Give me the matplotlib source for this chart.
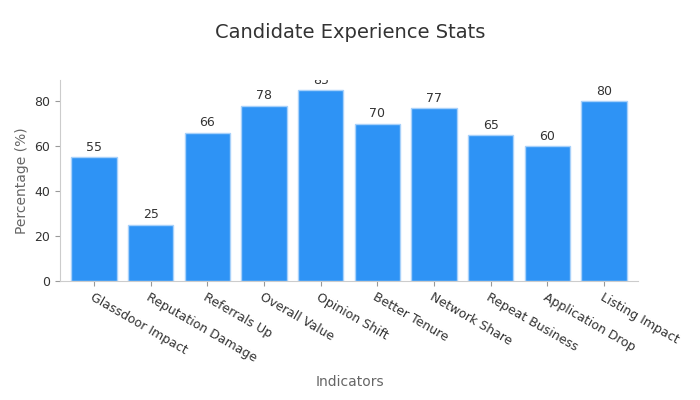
import matplotlib.pyplot as plt

categories = ["Glassdoor Impact", "Reputation Damage", "Referrals Up", "Overall Value",
              "Opinion Shift", "Better Tenure", "Network Share", "Repeat Business",
              "Application Drop", "Listing Impact"]
values = [55, 25, 66, 78, 85, 70, 77, 65, 60, 80]

fig = plt.figure(figsize=(7, 4), dpi=100)
ax = fig.add_axes([60 / 700, 1 - 281 / 400, 578 / 700, 201 / 400])

bars = ax.bar(range(len(values)), values, width=0.8, color="#2e93f5",
              edgecolor="#a8d1fa", linewidth=1)
for i, v in enumerate(values):
    ax.text(i, v + 1.5, str(v), ha="center", va="bottom", fontsize=9,
            color="#333333", clip_on=True)

ax.set_xlim(-0.6, len(values) - 0.4)
ax.set_ylim(0, 89.5)
ax.set_yticks([0, 20, 40, 60, 80])
ax.set_xticks(range(len(values)))
ax.set_xticklabels(categories, rotation=-30, ha="left", rotation_mode="anchor",
                   fontsize=9, color="#333333")
ax.tick_params(axis="y", labelsize=9, colors="#333333")
ax.tick_params(axis="both", color="#999999")
for s in ["top", "right"]:
    ax.spines[s].set_visible(False)
for s in ["left", "bottom"]:
    ax.spines[s].set_color("#cccccc")

ax.set_ylabel("Percentage (%)", fontsize=10, color="#666666")
fig.text(0.5, 1 - 382 / 400, "Indicators", ha="center", va="center",
         fontsize=10, color="#666666")
fig.text(0.5, 1 - 33 / 400, "Candidate Experience Stats", ha="center", va="center",
         fontsize=14, color="#333333")

fig.savefig("out.png")
